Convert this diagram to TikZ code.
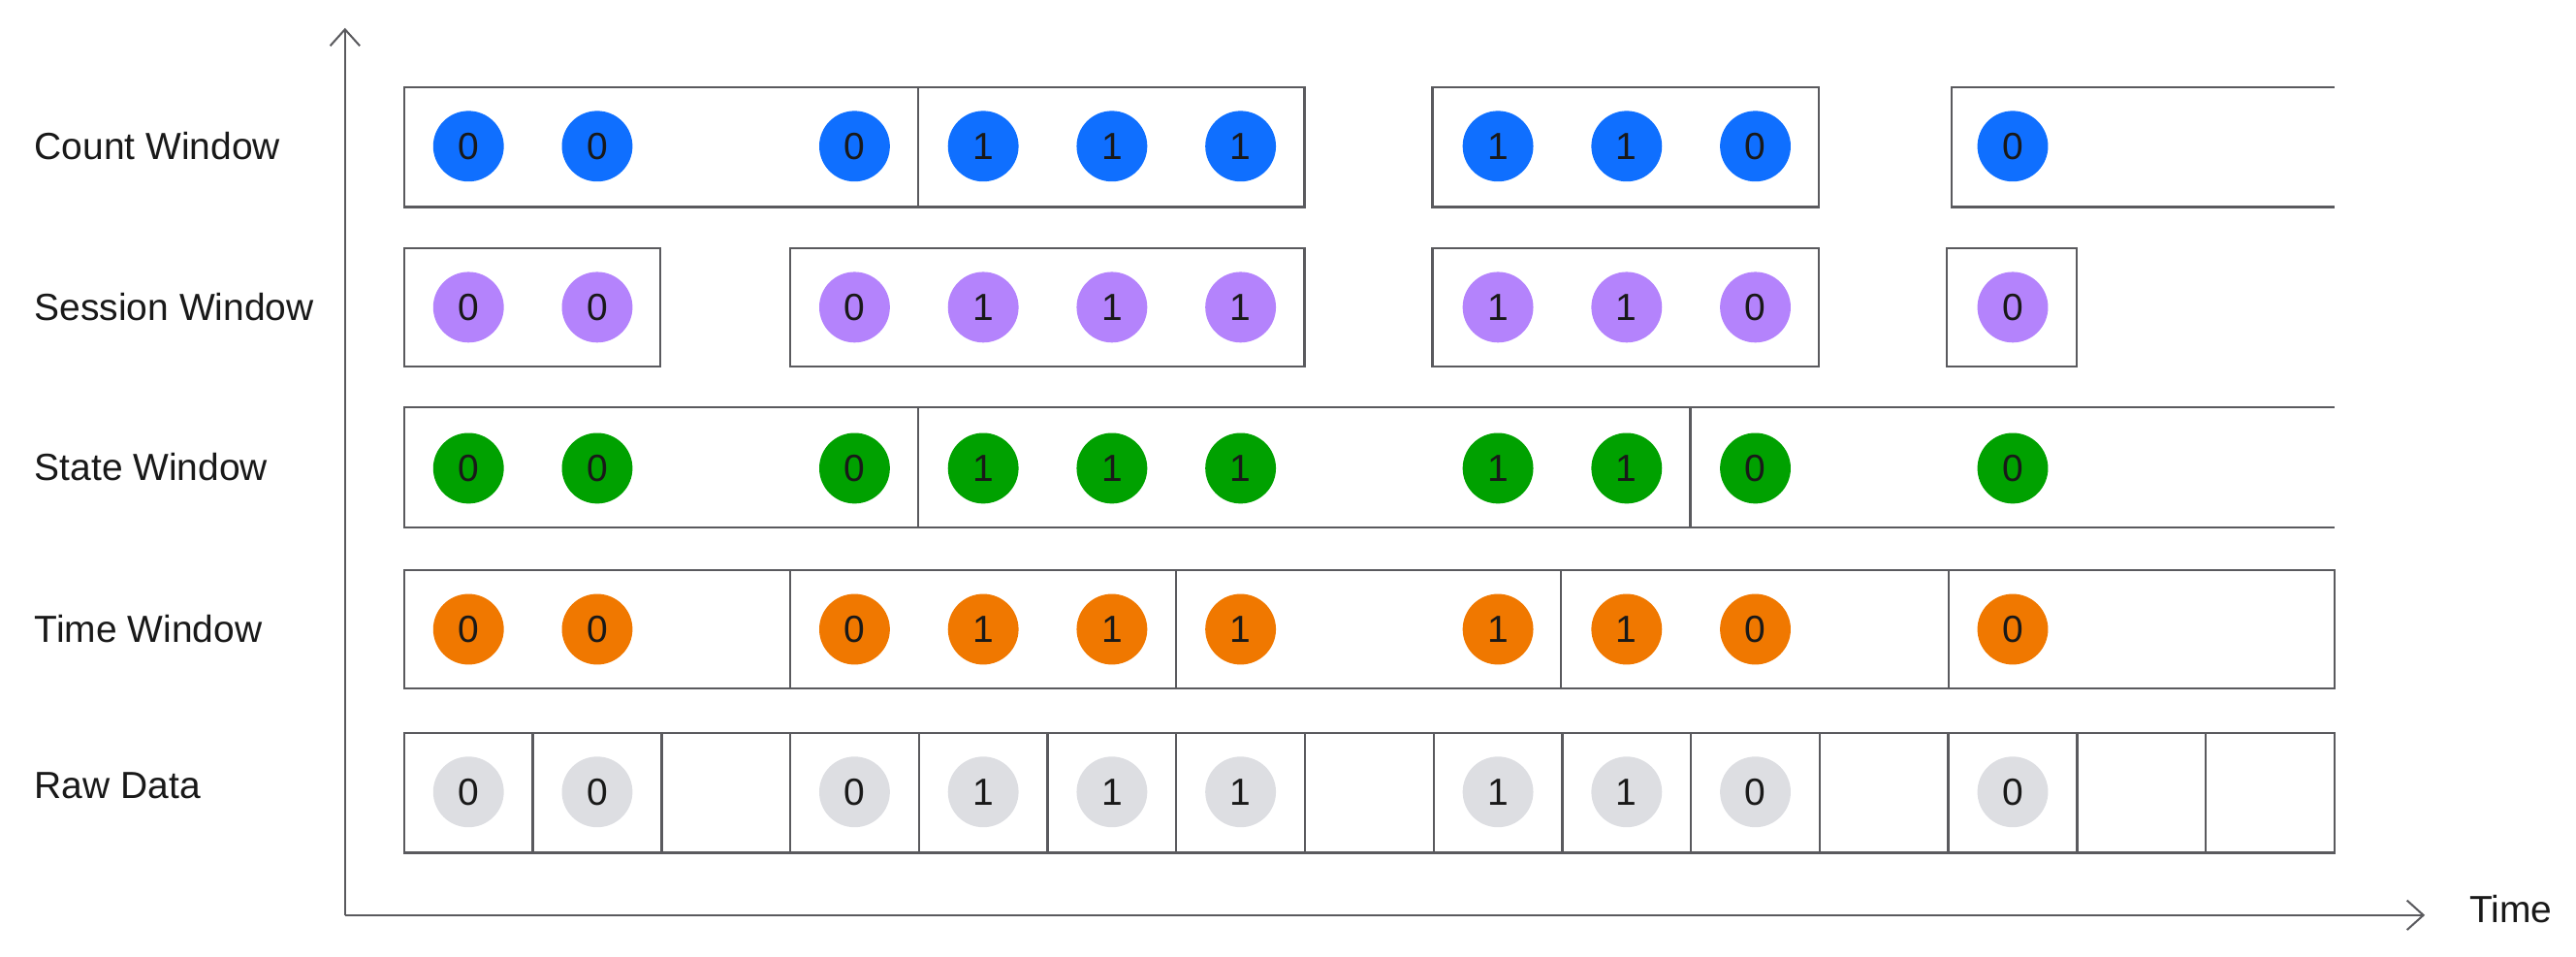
\documentclass[tikz,border=0pt]{standalone}
\usepackage{fontspec}
\setmainfont{Liberation Sans}
\usetikzlibrary{arrows.meta}
\definecolor{cblue}{HTML}{0F6FFF}
\definecolor{cpurple}{HTML}{B483FC}
\definecolor{cgreen}{HTML}{00A100}
\definecolor{corange}{HTML}{F07800}
\definecolor{cgray}{HTML}{DDDEE2}
\definecolor{cline}{HTML}{5A5A5E}
\begin{document}
\begin{tikzpicture}[x=0.5pt,y=-0.5pt,
  win/.style={draw=cline,line width=0.7pt},
  dot/.style={circle,minimum size=21.5pt,inner sep=0pt,font=\fontsize{11.5}{12}\selectfont,text=black!90},
  lab/.style={anchor=west,font=\fontsize{11.5}{12}\selectfont,text=black!90},
  axis/.style={draw=cline,line width=0.6pt,-{Straight Barb[length=5pt,width=9pt]}}]
\useasboundingbox (0,0) rectangle (1568,582);
% axes
\coordinate (o) at (210,557);
\coordinate (ytop) at (210,17);
\coordinate (xend) at (1476,557);
\draw[axis] (o) -- (ytop);
\draw[axis] (o) -- (xend);
\node[lab,anchor=west] (time) at (1496,553) {Time};
% labels
\node[lab] (lc) at (14,89) {Count Window};
\node[lab] (ls) at (14,187) {Session Window};
\node[lab] (lst) at (14,284) {State Window};
\node[lab] (lt) at (14,383) {Time Window};
\node[lab] (lr) at (14,478) {Raw Data};
% Count window
\draw[win] (246,53) rectangle (794,126); \draw[win] (559,53) -- (559,126);
\draw[win] (872,53) rectangle (1107,126);
\draw[win] (1421,53) -- (1188,53) -- (1188,126) -- (1421,126);
% Session window
\draw[win] (246,151) rectangle (402,223);
\draw[win] (481,151) rectangle (794,223);
\draw[win] (872,151) rectangle (1107,223);
\draw[win] (1185,151) rectangle (1264,223);
% State window
\draw[win] (1421,248) -- (246,248) -- (246,321) -- (1421,321);
\draw[win] (559,248) -- (559,321); \draw[win] (1029,248) -- (1029,321);
% Time window
\draw[win] (246,347) rectangle (1421,419);
\foreach \x in {481,716,950,1186} \draw[win] (\x,347) -- (\x,419);
% Raw
\draw[win] (246,446) rectangle (1421,519);
\foreach \i in {1,...,14} \draw[win] ({246+\i*78.33},446) -- ({246+\i*78.33},519);
% dots
\foreach \c/\v in {0/0,1/0,3/0,4/1,5/1,6/1,8/1,9/1,10/0,12/0}{
  \pgfmathsetmacro\xx{246+78.33*\c+39.17}
  \node[dot,fill=cblue] (c\c) at (\xx,89) {\v};
  \node[dot,fill=cpurple] (s\c) at (\xx,187) {\v};
  \node[dot,fill=cgreen] (g\c) at (\xx,285) {\v};
  \node[dot,fill=corange] (t\c) at (\xx,383) {\v};
  \node[dot,fill=cgray] (r\c) at (\xx,482) {\v};
}
\end{tikzpicture}
\end{document}
